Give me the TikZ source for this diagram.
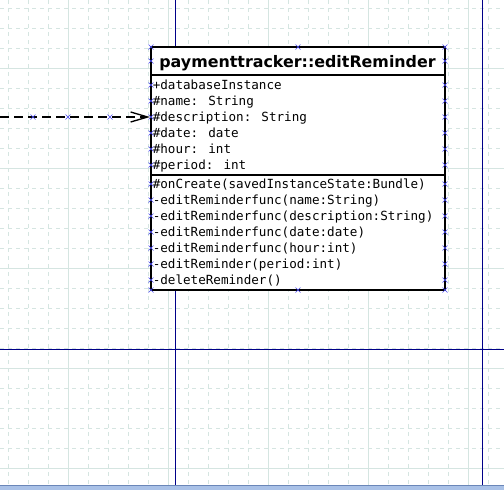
\documentclass[tikz,border=0pt]{standalone}
\usepackage{fontspec}
\setmainfont{DejaVu Sans}
\newfontfamily\monof{DejaVu Sans Mono}
\usetikzlibrary{arrows.meta}
\definecolor{gridc}{HTML}{D5E5E1}
\definecolor{navy}{HTML}{000088}
\definecolor{cpblue}{HTML}{4A4AF0}
\definecolor{barc}{HTML}{A9C1E7}
\definecolor{barline}{HTML}{6A86B8}
\begin{document}
\begin{tikzpicture}[x=0.75pt,y=-0.75pt,
  minorgrid/.style={gridc, line width=0.75pt, dash pattern=on 3pt off 3pt},
  majorgrid/.style={gridc, line width=0.75pt},
  guide/.style={navy, line width=0.75pt},
  cpcross/.style={cpblue, line width=0.5pt},
  umlbox/.style={draw=black, fill=white, line width=1.5pt, inner sep=0pt,
    minimum width=220.5pt, minimum height=182.25pt},
  sepline/.style={black, line width=1.5pt},
  attr/.style={anchor=base west, inner sep=0pt, font=\monof\fontsize{9.45pt}{11pt}\selectfont},
  titletext/.style={anchor=base, inner sep=0pt, font=\bfseries\fontsize{11.9pt}{14pt}\selectfont},
  depline/.style={black, line width=1.5pt, dash pattern=on 6.5pt off 4pt,
    -{Straight Barb[length=12.75pt,width=7.5pt,line width=1pt]}}
]
\useasboundingbox (0,0) rectangle (504,490);
\fill[white] (0,0) rectangle (504,490);
% grid
\foreach \i in {8,28,...,488} {
  \draw[minorgrid] (\i+0.5,0) -- (\i+0.5,485);
  \draw[minorgrid] (0,\i+0.5) -- (504,\i+0.5);
}
\foreach \i in {68,168,268,368,468} {
  \draw[majorgrid] (\i+0.5,0) -- (\i+0.5,485);
  \draw[majorgrid] (0,\i+0.5) -- (504,\i+0.5);
}
% guides
\draw[guide] (175.5,0) -- (175.5,485);
\draw[guide] (482.5,0) -- (482.5,485);
\draw[guide] (0,349.5) -- (504,349.5);
% bottom bar
\fill[barc] (0,485.5) rectangle (504,490);
\draw[barline, line width=0.75pt] (0,485.5) -- (504,485.5);
% class box
\node[umlbox] (box) at (298,168.5) {};
\coordinate (sepA) at (0,74.5);
\coordinate (sepB) at (0,174.5);
\draw[sepline] (box.west |- sepA) -- (box.east |- sepA);
\draw[sepline] (box.west |- sepB) -- (box.east |- sepB);
\node[titletext] (ttl) at (297.5,67) {paymenttracker::editReminder};
\node[attr] (a1) at (152.5,89) {+databaseInstance};
\node[attr] (a2) at (152.5,105) {\#name: String};
\node[attr] (a3) at (152.5,121) {\#description: String};
\node[attr] (a4) at (152.5,137) {\#date: date};
\node[attr] (a5) at (152.5,153) {\#hour: int};
\node[attr] (a6) at (152.5,169) {\#period: int};
\node[attr] (o1) at (152.5,188.5) {\#onCreate(savedInstanceState:Bundle)};
\node[attr] (o2) at (152.5,204.5) {-editReminderfunc(name:String)};
\node[attr] (o3) at (152.5,220.5) {-editReminderfunc(description:String)};
\node[attr] (o4) at (152.5,236.5) {-editReminderfunc(date:date)};
\node[attr] (o5) at (152.5,252.5) {-editReminderfunc(hour:int)};
\node[attr] (o6) at (152.5,268.5) {-editReminder(period:int)};
\node[attr] (o7) at (152.5,284.5) {-deleteReminder()};
% dependency connector
\coordinate (src) at (0,117);
\draw[depline] (src) -- (box.west |- src);
% connection points
\foreach \y in {47,61,85,101,117,133,149,165,184,200,216,232,248,264,280,290} {
  \draw[cpcross] (148.5,\y-2.5) -- (153.5,\y+2.5) (148.5,\y+2.5) -- (153.5,\y-2.5);
  \draw[cpcross] (442.5,\y-2.5) -- (447.5,\y+2.5) (442.5,\y+2.5) -- (447.5,\y-2.5);
}
\foreach \x/\y in {298/47,298/290,33/117,68/117,110/117} {
  \draw[cpcross] (\x-2.5,\y-2.5) -- (\x+2.5,\y+2.5) (\x-2.5,\y+2.5) -- (\x+2.5,\y-2.5);
}
\end{tikzpicture}
\end{document}
